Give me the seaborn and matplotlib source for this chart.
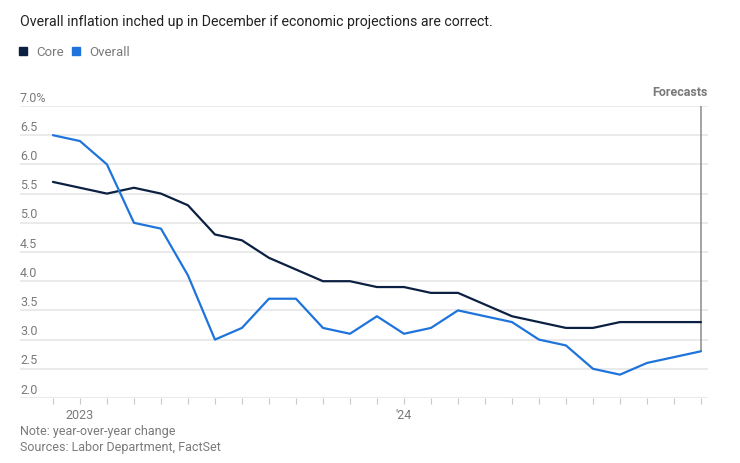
import pandas as pd
import matplotlib.pyplot as plt
import seaborn as sns
from matplotlib.lines import Line2D

# data: monthly, Dec 2022 .. Dec 2024
months = pd.date_range('2022-12-01', '2024-12-01', freq='MS')
core = [5.7, 5.6, 5.5, 5.6, 5.5, 5.3, 4.8, 4.7, 4.4, 4.2, 4.0, 4.0, 3.9,
        3.9, 3.8, 3.8, 3.6, 3.4, 3.3, 3.2, 3.2, 3.3, 3.3, 3.3, 3.3]
overall = [6.5, 6.4, 6.0, 5.0, 4.9, 4.1, 3.0, 3.2, 3.7, 3.7, 3.2, 3.1, 3.4,
           3.1, 3.2, 3.5, 3.4, 3.3, 3.0, 2.9, 2.5, 2.4, 2.6, 2.7, 2.8]
y_ticks = [2.0, 2.5, 3.0, 3.5, 4.0, 4.5, 5.0, 5.5, 6.0, 6.5, 7.0]
y_labels = ['2.0', '2.5', '3.0', '3.5', '4.0', '4.5', '5.0', '5.5', '6.0', '6.5', '7.0%']
x_labels = {1: '2023', 13: "'24"}

colors = {'Core': '#0c2142', 'Overall': '#1f74dc'}
grey = '#7a7a7a'

df = pd.DataFrame({'idx': range(len(months)), 'Core': core, 'Overall': overall})
long = df.melt(id_vars='idx', var_name='series', value_name='value')

sns.set_theme(style='white')
plt.rcParams['font.family'] = ['Roboto', 'DejaVu Sans']

fig = plt.figure(figsize=(7.4, 4.63), dpi=100)
ax = fig.add_axes([20 / 740, 1 - 398 / 463, 688 / 740, 292 / 463])

# gridlines
for v in y_ticks:
    ax.axhline(v, color='#e8e8e8', lw=1.3, zorder=0)

sns.lineplot(data=long, x='idx', y='value', hue='series', palette=colors,
             lw=1.6, legend=False, ax=ax, zorder=3)

ax.set_xlim(-1.22, 24.26)
ax.set_ylim(2.0, 7.0)
for s in ['top', 'right', 'left', 'bottom']:
    ax.spines[s].set_visible(False)

# y labels sitting above the gridlines
ax.set_yticks([])
for v, lab in zip(y_ticks, y_labels):
    ax.annotate(lab, xy=(0, v), xycoords=ax.get_yaxis_transform(),
                xytext=(0, 1), textcoords='offset points',
                ha='left', va='bottom', fontsize=9, color=grey)

ax.set_xticks(range(len(months)))
ax.set_xticklabels([x_labels.get(i, '') for i in range(len(months))])
ax.tick_params(axis='x', length=4, width=0.8, color='#c8c8c8', pad=4,
               labelsize=9, labelcolor=grey, bottom=True)
ax.set_xlabel('')
ax.set_ylabel('')

# forecast marker
last = len(months) - 1
ax.plot([last, last], [overall[-1], 7.0], color='#8a8a8a', lw=1.1, zorder=2)
ax.annotate('Forecasts', xy=(1, 7.0), xycoords=('axes fraction', 'data'),
            xytext=(0, 5), textcoords='offset points', ha='right', va='bottom',
            fontsize=9, fontweight='bold', color=grey)

fig.text(20 / 740, 1 - 22 / 463, 'Overall inflation inched up in December if economic projections are correct.',
         fontsize=10.2, color='#222222', va='center', ha='left')

handles = [Line2D([], [], marker='s', ls='', color=colors[k], markersize=6) for k in ['Core', 'Overall']]
fig.legend(handles, ['Core', 'Overall'], loc='center left', bbox_to_anchor=(5 / 740, 1 - 52 / 463),
           ncol=2, frameon=False, fontsize=9.5, labelcolor=grey, handletextpad=0.5,
           columnspacing=0.4, handlelength=1.0)

fig.text(20 / 740, 1 - 432 / 463, 'Note: year-over-year change', fontsize=9, color=grey, va='center')
fig.text(20 / 740, 1 - 447 / 463, 'Sources: Labor Department, FactSet', fontsize=9, color=grey, va='center')

fig.savefig('out.png', dpi=100)
plt.close(fig)
